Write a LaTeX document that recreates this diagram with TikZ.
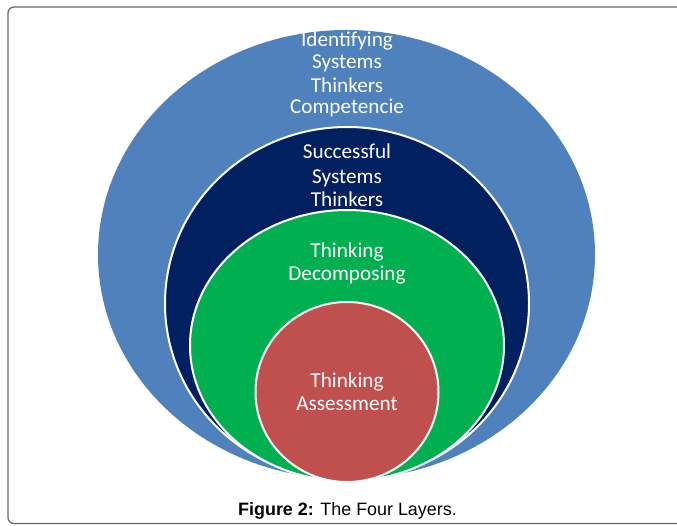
\documentclass[tikz,border=0pt]{standalone}
\usepackage{fontspec}
\setmainfont{Carlito}
\newfontfamily\capfont{Liberation Sans}
\definecolor{layerblue}{HTML}{4F81BD}
\definecolor{layernavy}{HTML}{002060}
\definecolor{layergreen}{HTML}{00B050}
\definecolor{layerred}{HTML}{C0504D}
\definecolor{framegray}{HTML}{6A6A6A}
\begin{document}
\begin{tikzpicture}[x=1pt,y=-1pt,
  layer/.style={draw=white, line width=2pt},
  lbl/.style={anchor=base, text=white, inner sep=0pt,
    font=\fontsize{21.2}{23}\selectfont}]
\useasboundingbox (0,0) rectangle (677,525);
% outer frame
\draw[framegray, line width=1.3pt, rounded corners=6pt] (8,7) rectangle (720,523.5);
% nested layers, outermost first
\fill[layerblue] (346.5,254.5) ellipse [x radius=248.5, y radius=224.5];
\draw[layer, fill=layernavy] (347,303.5) ellipse [x radius=182, y radius=176.5];
\draw[layer, fill=layergreen] (347,345.5) ellipse [x radius=157, y radius=135.5];
\draw[layer, fill=layerred] (347,392) ellipse [x radius=91.5, y radius=90];
% layer labels
\node[lbl] (id1) at (347,46.5) {Identifying};
\node[lbl] (id2) at (347,68) {Systems};
\node[lbl] (id3) at (347,92) {Thinkers};
\node[lbl] (id4) at (347,113) {Competencie};
\node[lbl] (ss1) at (347,158) {Successful};
\node[lbl] (ss2) at (347,183) {Systems};
\node[lbl] (ss3) at (347,206) {Thinkers};
\node[lbl] (td1) at (347,257) {Thinking};
\node[lbl] (td2) at (347,280) {Decomposing};
\node[lbl] (ta1) at (347,387) {Thinking};
\node[lbl] (ta2) at (347,410) {Assessment};
% caption
\node[anchor=base, inner sep=0pt, font=\capfont\fontsize{17.9}{20}\selectfont]
  (cap) at (347.5,515) {\textbf{Figure 2:} The Four Layers.};
\end{tikzpicture}
\end{document}
